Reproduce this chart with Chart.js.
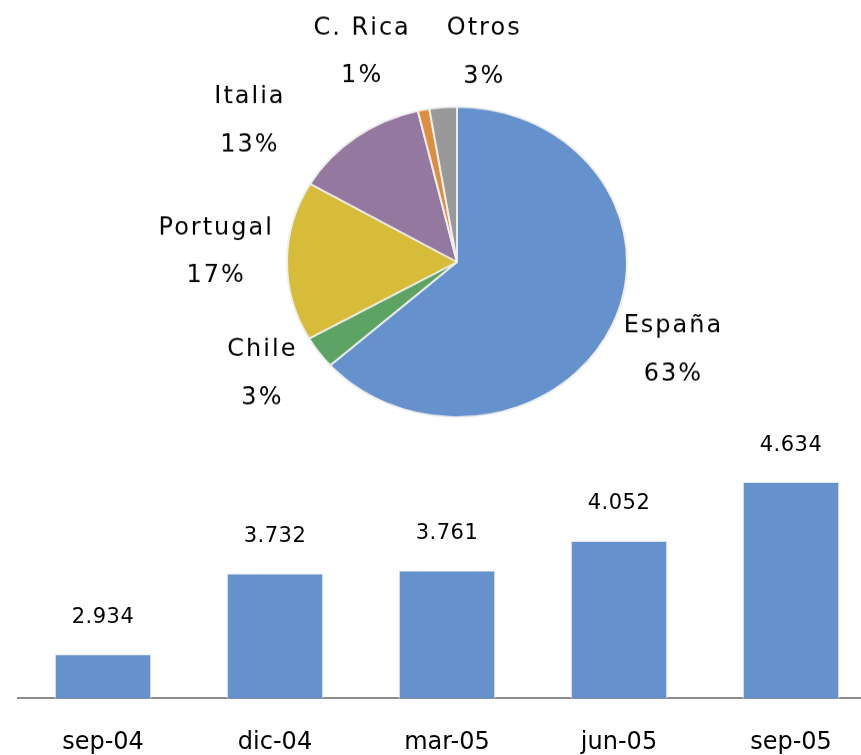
<!DOCTYPE html>
<html>
<head>
<meta charset="utf-8">
<script src="https://cdn.jsdelivr.net/npm/chart.js@4"></script>
<style>
  body { margin: 0; width: 861px; height: 755px; overflow: hidden; position: relative; background: #fff; }
  canvas { position: absolute; }
</style>
</head>
<body>
<canvas id="pie" width="861" height="470" style="left:0; top:0; width:861px; height:428.6px"></canvas>
<canvas id="barras" width="860" height="360" style="left:17px; top:427px; width:860px; height:360px"></canvas>
<script>
// Reparto por pais (%)
const paises = ["España", "Chile", "Portugal", "Italia", "C. Rica", "Otros"];
const reparto = [63.4, 3.4, 16.6, 12.9, 1.1, 2.6];
const coloresPais = ["#6591CC", "#5DA363", "#D7BC39", "#9478A0", "#DF8D3F", "#999999"];

// Evolucion trimestral
const periodos = ["sep-04", "dic-04", "mar-05", "jun-05", "sep-05"];
const clientes = [2934, 3732, 3761, 4052, 4634];

// la tarta sale algo achatada en el original
const aplastado = 0.912;
// ajuste de etiquetas: giro (grados) y distancia al centro
const ajusteEtiquetas = [
    { giro: 0, dist: 236 },
    { giro: 3.5, dist: 231 },
    { giro: 2.2, dist: 242 },
    { giro: -16.9, dist: 259 },
    { giro: -11.3, dist: 249 },
    { giro: 11.2, dist: 231 }
];

Chart.defaults.font.family = "'DejaVu Sans', sans-serif";
Chart.defaults.color = "#000";

function formatoMiles(v) {
    return String(v).replace(/\B(?=(\d{3})+(?!\d))/g, ".");
}

const etiquetasTarta = {
    id: "etiquetasTarta",
    afterDatasetsDraw(chart) {
        const ctx = chart.ctx;
        const total = reparto.reduce((s, v) => s + v, 0);
        chart.getDatasetMeta(0).data.forEach((arc, i) => {
            const a = (arc.startAngle + arc.endAngle) / 2 + ajusteEtiquetas[i].giro * Math.PI / 180;
            const x = arc.x + Math.cos(a) * ajusteEtiquetas[i].dist;
            const y = arc.y + Math.sin(a) * ajusteEtiquetas[i].dist;
            ctx.save();
            ctx.translate(x, y);
            ctx.scale(1, 1 / aplastado);
            ctx.font = "24px 'DejaVu Sans'";
            ctx.letterSpacing = "2px";
            ctx.fillStyle = "#000";
            ctx.textAlign = "center";
            ctx.textBaseline = "middle";
            ctx.fillText(paises[i], 1, -24);
            ctx.fillText(Math.round(reparto[i] / total * 100) + "%", 1, 24);
            ctx.restore();
        });
    }
};

const etiquetasBarras = {
    id: "etiquetasBarras",
    afterDatasetsDraw(chart) {
        const ctx = chart.ctx;
        ctx.save();
        ctx.font = "21px 'DejaVu Sans'";
        ctx.letterSpacing = "0.5px";
        ctx.fillStyle = "#000";
        ctx.textAlign = "center";
        ctx.textBaseline = "middle";
        chart.getDatasetMeta(0).data.forEach((bar, i) => {
            ctx.fillText(formatoMiles(clientes[i]), bar.x, bar.y - 37);
        });
        ctx.restore();
    }
};

new Chart(document.getElementById("pie"), {
    type: "pie",
    data: {
        labels: paises,
        datasets: [{
            data: reparto,
            backgroundColor: coloresPais,
            borderColor: "#eeeeee",
            borderWidth: 2
        }]
    },
    options: {
        responsive: false,
        animation: false,
        layout: { padding: { left: 286, right: 233, top: 116, bottom: 12 } },
        plugins: { legend: { display: false }, tooltip: { enabled: false } }
    },
    plugins: [etiquetasTarta]
});

new Chart(document.getElementById("barras"), {
    type: "bar",
    data: {
        labels: periodos,
        datasets: [{
            data: clientes,
            backgroundColor: "#6591CC",
            borderColor: "#e3e7ec",
            borderWidth: 1,
            categoryPercentage: 1,
            barPercentage: 0.56
        }]
    },
    options: {
        responsive: false,
        animation: false,
        layout: { padding: { top: 18, left: 0, right: 0, bottom: 0 } },
        plugins: { legend: { display: false }, tooltip: { enabled: false } },
        scales: {
            x: {
                grid: { display: false, drawTicks: false },
                border: { display: true, color: "#8c8c8c", width: 2 },
                ticks: { color: "#000", font: { size: 24 }, padding: 30 }
            },
            y: { display: false, min: 2500, max: 5000 }
        }
    },
    plugins: [etiquetasBarras]
});
</script>
</body>
</html>
